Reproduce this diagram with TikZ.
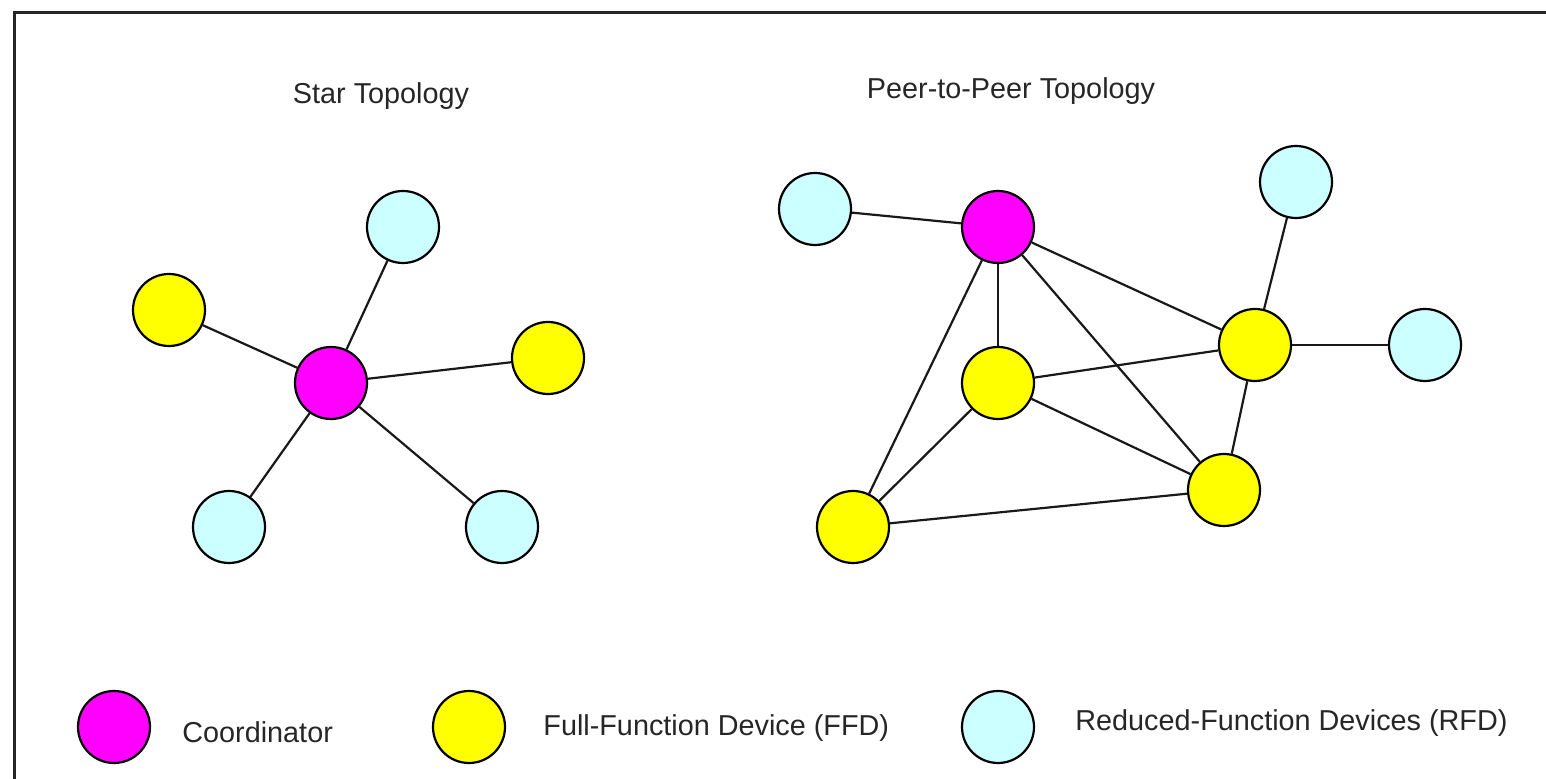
\documentclass[tikz,border=0pt]{standalone}
\usepackage{fontspec}
\setmainfont{Liberation Sans}
\definecolor{coord}{HTML}{FF00FF}
\definecolor{ffd}{HTML}{FFFF00}
\definecolor{rfd}{HTML}{CCFFFF}
\begin{document}
\begin{tikzpicture}[x=0.5pt,y=-0.5pt,
  dev/.style={circle,draw=black,line width=1.1pt,minimum size=36pt,inner sep=0pt},
  coordn/.style={dev,fill=coord},
  ffdn/.style={dev,fill=ffd},
  rfdn/.style={dev,fill=rfd},
  link/.style={draw=black!90,line width=1.1pt},
  lbl/.style={font=\fontsize{14.4pt}{16pt}\selectfont,text=black!85,inner sep=0pt}]
\useasboundingbox (0,0) rectangle (1546,779);
\draw[line width=1.5pt,black!85] (14,779) -- (14,13) -- (1546,13);
% titles
\node[lbl,anchor=base] (t1) at (381,104) {Star Topology};
\node[lbl,anchor=base] (t2) at (1011,99) {Peer-to-Peer Topology};
% star
\node[coordn] (sc) at (331,383) {};
\node[rfdn] (s1) at (403,227) {};
\node[ffdn] (s2) at (169,310) {};
\node[ffdn] (s3) at (548,358) {};
\node[rfdn] (s4) at (229,527) {};
\node[rfdn] (s5) at (502,527) {};
\foreach \n in {s1,s2,s3,s4,s5} \draw[link] (sc) -- (\n);
% peer
\node[rfdn] (pr1) at (815,209) {};
\node[coordn] (pc) at (998,227) {};
\node[rfdn] (pr2) at (1296,182) {};
\node[ffdn] (pf1) at (1255,345) {};
\node[rfdn] (pr3) at (1425,345) {};
\node[ffdn] (pf2) at (998,383) {};
\node[ffdn] (pf3) at (1224,490) {};
\node[ffdn] (pf4) at (853,527) {};
\draw[link] (pr1) -- (pc);
\draw[link] (pc) -- (pf2);
\draw[link] (pc) -- (pf1);
\draw[link] (pc) -- (pf3);
\draw[link] (pc) -- (pf4);
\draw[link] (pf2) -- (pf1);
\draw[link] (pf2) -- (pf3);
\draw[link] (pf2) -- (pf4);
\draw[link] (pf4) -- (pf3);
\draw[link] (pf1) -- (pf3);
\draw[link] (pf1) -- (pr2);
\draw[link] (pf1) -- (pr3);
% legend
\node[coordn] (l1) at (114,727) {};
\node[lbl,anchor=base west] (lt1) at (182,742) {Coordinator};
\node[ffdn] (l2) at (469,727) {};
\node[lbl,anchor=base west] (lt2) at (543,735) {Full-Function Device (FFD)};
\node[rfdn] (l3) at (998,727) {};
\node[lbl,anchor=base west] (lt3) at (1075,730) {Reduced-Function Devices (RFD)};
\end{tikzpicture}
\end{document}
